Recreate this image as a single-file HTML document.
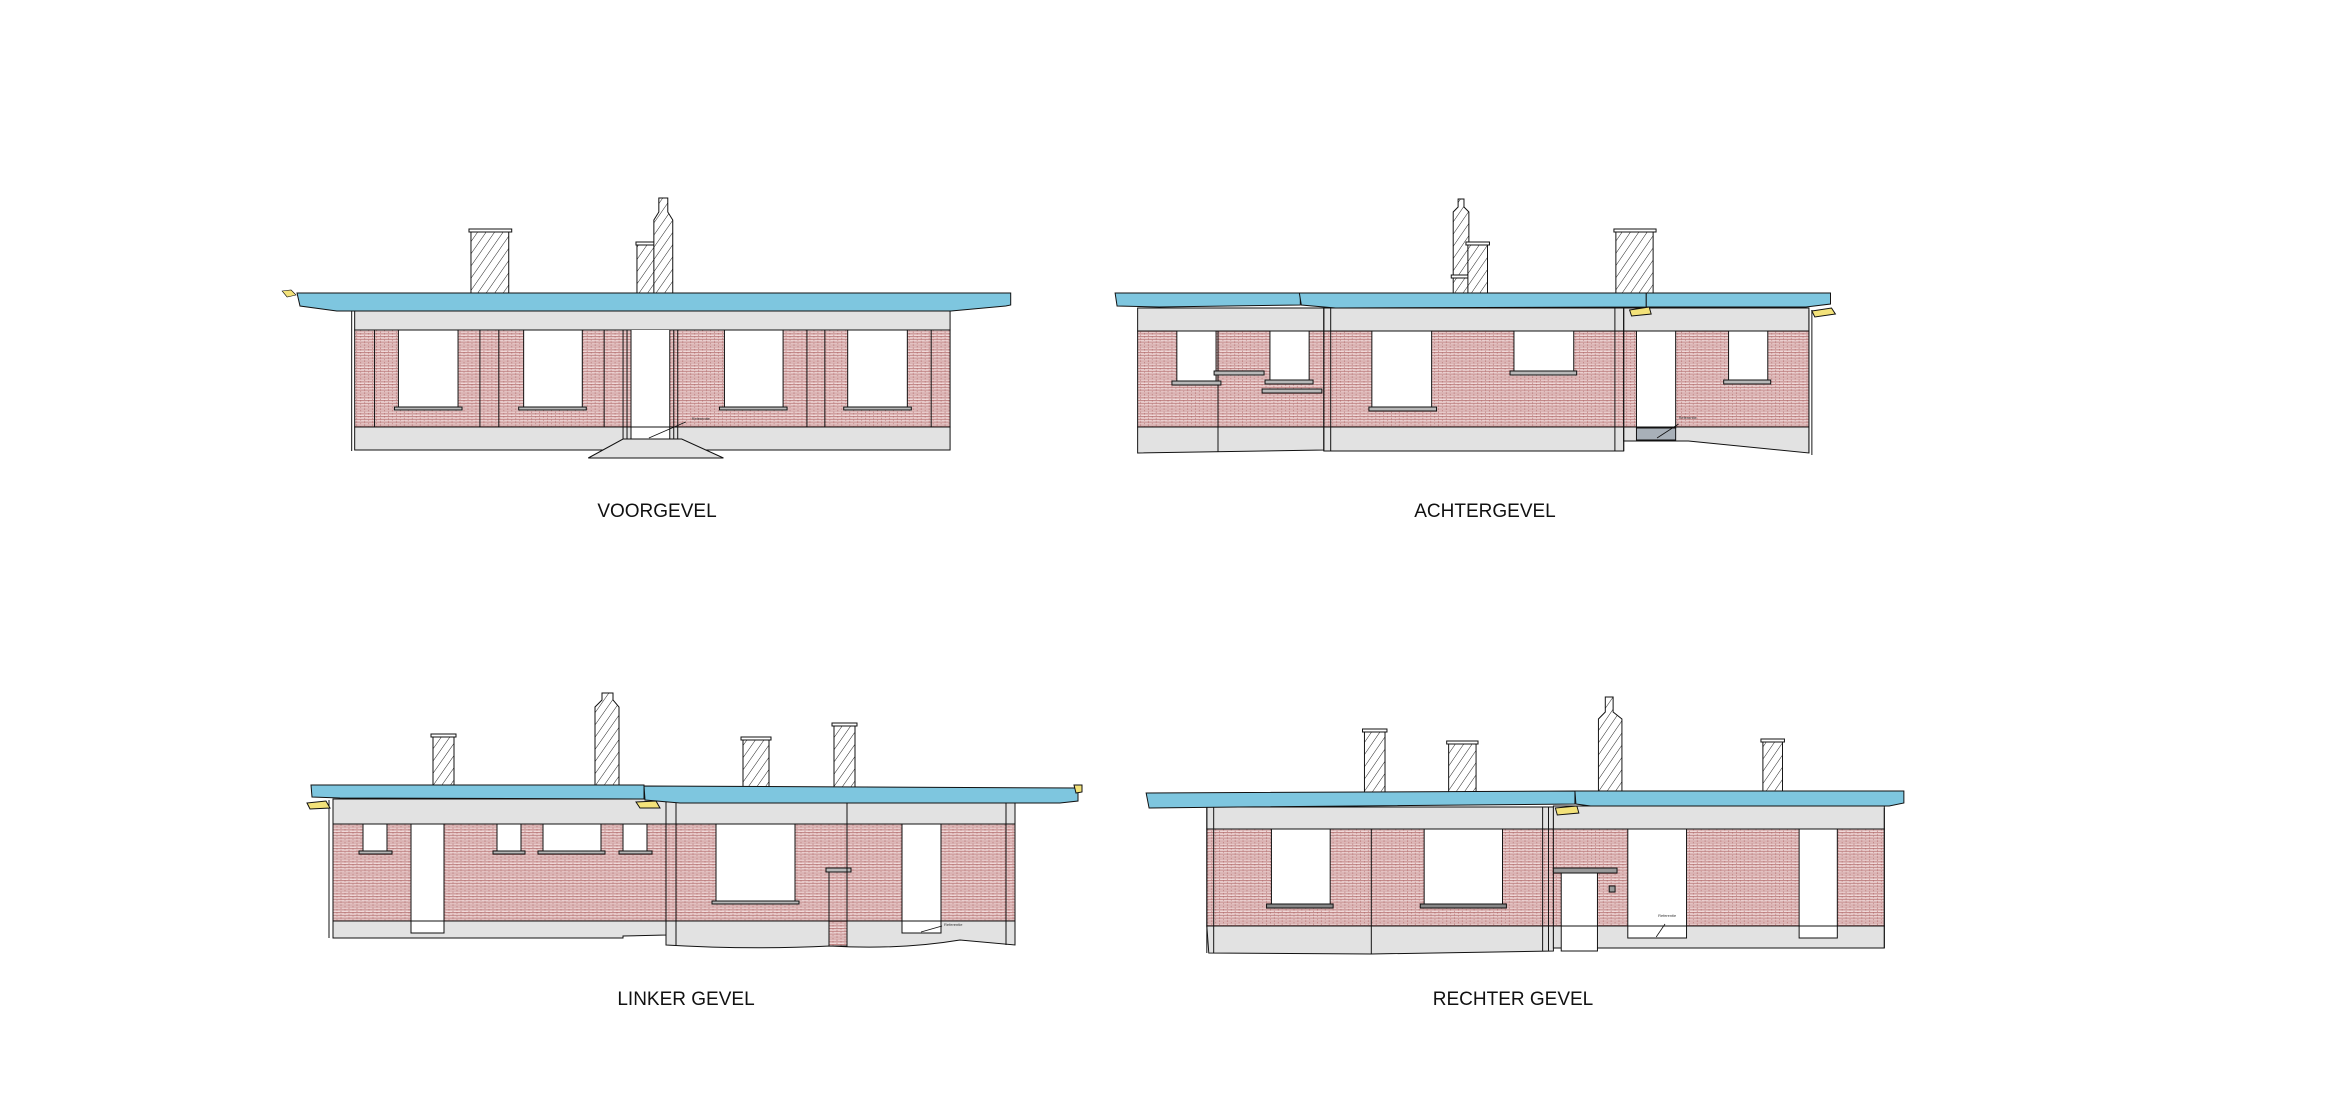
<!DOCTYPE html>
<html><head><meta charset="utf-8"><style>
html,body{margin:0;padding:0;background:#fff;}
svg{display:block;}
text{font-family:"Liberation Sans",Arial,sans-serif;}
</style></head><body>
<svg width="2335" height="1095" viewBox="0 0 2335 1095" xmlns="http://www.w3.org/2000/svg">
<defs>
<pattern id="br" width="8" height="3.2" patternUnits="userSpaceOnUse">
<rect width="8" height="3.2" fill="#f3dede"/>
<line x1="0" y1="0.4" x2="8" y2="0.4" stroke="#b06868" stroke-width="0.7"/>
<line x1="1" y1="0" x2="1" y2="1.6" stroke="#b06868" stroke-width="0.6"/>
<line x1="5" y1="1.6" x2="5" y2="3.2" stroke="#b06868" stroke-width="0.6"/>
<line x1="0" y1="2" x2="8" y2="2" stroke="#c08888" stroke-width="0.5"/>
</pattern>
<pattern id="ht" width="7" height="7" patternUnits="userSpaceOnUse" patternTransform="rotate(35)">
<rect width="7" height="7" fill="#fff"/>
<line x1="0" y1="0" x2="0" y2="7" stroke="#222" stroke-width="1"/>
</pattern>
</defs>
<g stroke="#111" stroke-width="1">

<!-- ================= VOORGEVEL ================= -->
<g transform="matrix(0.994 0 0 1 1.8 0)">
<rect x="472" y="232" width="38" height="62" fill="url(#ht)"/>
<rect x="470" y="229" width="43" height="3" fill="#fff"/>
<rect x="639" y="245" width="20" height="49" fill="url(#ht)"/>
<rect x="638" y="242" width="23" height="3" fill="#fff"/>
<path d="M661 198 H670 V212 L675 220 V294 H656 V220 L661 212 Z" fill="url(#ht)"/>
<rect x="355" y="310" width="599" height="20" fill="#e2e2e2"/>
<rect x="355" y="330" width="599" height="97" fill="url(#br)"/>
<rect x="355" y="427" width="599" height="23" fill="#e2e2e2"/>
<line x1="352" y1="310" x2="352" y2="451"/>
<g fill="#fff">
<rect x="399" y="330" width="60" height="77"/><rect x="525" y="330" width="59" height="77"/>
<rect x="727" y="330" width="59" height="77"/><rect x="851" y="330" width="60" height="77"/>
<rect x="633" y="330" width="39" height="109" stroke="none"/>
</g>
<g fill="#b8b8b8"><rect x="395" y="407" width="68" height="3"/><rect x="520" y="407" width="68" height="3"/><rect x="722" y="407" width="68" height="3"/><rect x="847" y="407" width="68" height="3"/></g>
<g fill="none"><line x1="375" y1="330" x2="375" y2="427"/><line x1="481" y1="330" x2="481" y2="427"/><line x1="500" y1="330" x2="500" y2="427"/><line x1="606" y1="330" x2="606" y2="427"/><line x1="810" y1="330" x2="810" y2="427"/><line x1="828" y1="330" x2="828" y2="427"/><line x1="935" y1="330" x2="935" y2="427"/>
<line x1="625" y1="330" x2="625" y2="439"/><line x1="629" y1="330" x2="629" y2="439"/><line x1="633" y1="330" x2="633" y2="439"/>
<line x1="672" y1="330" x2="672" y2="439"/><line x1="676" y1="330" x2="676" y2="439"/><line x1="680" y1="330" x2="680" y2="439"/>
<line x1="355" y1="427" x2="954" y2="427"/></g>
<path d="M625 439 H684 L726 458 H590 Z" fill="#e2e2e2"/>
<line x1="651" y1="438" x2="688" y2="422" stroke-width="0.8"/>
<text x="694" y="420" font-size="4" stroke="none" fill="#333">Referentie</text>
<path d="M297 293 H1015 V305 L1010 306 L955 311 H337 L300 306 Z" fill="#7ec6df"/>
<path d="M282 291 L291 290 L296 295 L287 297 Z" fill="#f3e27a" stroke-width="0.6"/>
</g>

<!-- ================= ACHTERGEVEL ================= -->
<g transform="matrix(0.98 0 0 1 22.4 0)">
<path d="M1460 294 V212 L1465 207 V199 H1471 V207 L1476 212 V294 Z" fill="url(#ht)"/>
<rect x="1458" y="275" width="20" height="3" fill="#fff"/>
<rect x="1475" y="244" width="20" height="50" fill="url(#ht)"/>
<rect x="1473" y="242" width="24" height="3" fill="#fff"/>
<rect x="1626" y="232" width="38" height="62" fill="url(#ht)"/>
<rect x="1624" y="229" width="43" height="3" fill="#fff"/>
<rect x="1138" y="308" width="190" height="23" fill="#e2e2e2"/>
<rect x="1138" y="331" width="190" height="96" fill="url(#br)"/>
<path d="M1138 427 H1328 V450 L1138 453 Z" fill="#e2e2e2"/>
<rect x="1328" y="308" width="306" height="23" fill="#e2e2e2"/>
<rect x="1328" y="331" width="306" height="96" fill="url(#br)"/>
<rect x="1328" y="427" width="306" height="24" fill="#e2e2e2"/>
<rect x="1634" y="308" width="189" height="23" fill="#e2e2e2"/>
<rect x="1634" y="331" width="189" height="96" fill="url(#br)"/>
<path d="M1634 427 H1823 V453 L1700 441 H1634 Z" fill="#e2e2e2"/>
<line x1="1220" y1="331" x2="1220" y2="452"/>
<g fill="#fff">
<rect x="1178" y="331" width="40" height="51"/><rect x="1273" y="331" width="40" height="49"/>
<rect x="1377" y="331" width="61" height="76"/><rect x="1522" y="331" width="61" height="40"/>
<rect x="1647" y="331" width="40" height="97"/><rect x="1741" y="331" width="40" height="49"/>
</g>
<rect x="1647" y="428" width="40" height="12" fill="#a8b0b8"/>
<g fill="#b8b8b8"><rect x="1173" y="381" width="50" height="4"/><rect x="1268" y="380" width="49" height="4"/><rect x="1216" y="371" width="51" height="4"/><rect x="1265" y="389" width="61" height="4"/><rect x="1374" y="407" width="69" height="4"/><rect x="1518" y="371" width="68" height="4"/><rect x="1736" y="380" width="48" height="4"/></g>
<g fill="none"><line x1="1328" y1="308" x2="1328" y2="451"/><line x1="1335" y1="308" x2="1335" y2="451"/><line x1="1625" y1="308" x2="1625" y2="451"/><line x1="1634" y1="308" x2="1634" y2="451"/><line x1="1823" y1="310" x2="1823" y2="453"/><line x1="1826" y1="310" x2="1826" y2="455"/>
<line x1="1138" y1="427" x2="1823" y2="427"/></g>
<line x1="1668" y1="438" x2="1690" y2="424" stroke-width="0.8"/>
<text x="1690" y="419" font-size="4" stroke="none" fill="#333">Referentie</text>
<path d="M1115 293 H1304 V305 L1160 307 L1117 306 Z" fill="#7ec6df"/>
<path d="M1303 293 H1657 V307 L1340 308 L1305 305 Z" fill="#7ec6df"/>
<path d="M1657 293 H1845 V304 L1820 307 H1657 Z" fill="#7ec6df"/>
<path d="M1640 310 L1660 307 L1662 314 L1642 316 Z" fill="#f3e27a"/>
<path d="M1826 311 L1846 308 L1850 314 L1829 317 Z" fill="#f3e27a"/>
</g>

<!-- ================= LINKER GEVEL ================= -->
<rect x="433" y="737" width="21" height="49" fill="url(#ht)"/><rect x="431" y="734" width="25" height="3" fill="#fff"/>
<path d="M595 786 V707 L602 700 V693 H613 V700 L619 707 V786 Z" fill="url(#ht)"/>
<rect x="743" y="740" width="26" height="47" fill="url(#ht)"/><rect x="741" y="737" width="30" height="3" fill="#fff"/>
<rect x="834" y="726" width="21" height="61" fill="url(#ht)"/><rect x="832" y="723" width="25" height="3" fill="#fff"/>
<rect x="333" y="799" width="333" height="25" fill="#e2e2e2"/>
<rect x="333" y="824" width="333" height="97" fill="url(#br)"/>
<path d="M333 921 H666 V935 L623 936 V938 H333 Z" fill="#e2e2e2"/>
<rect x="666" y="800" width="349" height="24" fill="#e2e2e2"/>
<rect x="666" y="824" width="349" height="97" fill="url(#br)"/>
<path d="M666 921 H1015 V945 L960 940 Q900 950 830 946 Q750 950 666 945 Z" fill="#e2e2e2"/>
<line x1="329" y1="800" x2="329" y2="938"/>
<g fill="#fff">
<rect x="363" y="824" width="24" height="27"/><rect x="411" y="824" width="33" height="109"/>
<rect x="497" y="824" width="24" height="27"/><rect x="543" y="824" width="58" height="27"/><rect x="623" y="824" width="24" height="27"/>
<rect x="716" y="824" width="79" height="77"/><rect x="902" y="824" width="39" height="109"/>
</g>
<rect x="829" y="870" width="18" height="76" fill="url(#br)"/>
<g fill="#b8b8b8"><rect x="359" y="851" width="33" height="3"/><rect x="493" y="851" width="32" height="3"/><rect x="538" y="851" width="67" height="3"/><rect x="619" y="851" width="33" height="3"/><rect x="712" y="901" width="87" height="3"/><rect x="826" y="868" width="25" height="4"/></g>
<g fill="none"><line x1="666" y1="800" x2="666" y2="945"/><line x1="676" y1="800" x2="676" y2="945"/><line x1="847" y1="800" x2="847" y2="946"/><line x1="1006" y1="803" x2="1006" y2="945"/><line x1="1015" y1="803" x2="1015" y2="945"/><line x1="333" y1="921" x2="1015" y2="921"/></g>
<line x1="921" y1="932" x2="942" y2="926" stroke-width="0.8"/>
<text x="944" y="926" font-size="4" stroke="none" fill="#333">Referentie</text>
<path d="M311 785 H644 V799 L340 798 L312 797 Z" fill="#7ec6df"/>
<path d="M644 786 L1078 788 V801 L1060 803 H680 L645 800 Z" fill="#7ec6df"/>
<path d="M307 803 L326 801 L330 808 L310 809 Z" fill="#f3e27a"/>
<path d="M636 802 L656 801 L660 808 L640 808 Z" fill="#f3e27a"/>
<path d="M1074 785 H1082 V792 L1076 793 Z" fill="#f3e27a"/>

<!-- ================= RECHTER GEVEL ================= -->
<g transform="matrix(0.979 0 0 1 24.2 0)">
<rect x="1369" y="732" width="21" height="60" fill="url(#ht)"/><rect x="1367" y="729" width="25" height="3" fill="#fff"/>
<rect x="1455" y="744" width="28" height="48" fill="url(#ht)"/><rect x="1453" y="741" width="32" height="3" fill="#fff"/>
<path d="M1608 792 V719 L1615 712 V697 H1623 V712 L1632 719 V792 Z" fill="url(#ht)"/>
<rect x="1776" y="742" width="20" height="50" fill="url(#ht)"/><rect x="1774" y="739" width="24" height="3" fill="#fff"/>
<rect x="1208" y="807" width="354" height="22" fill="#e2e2e2"/>
<rect x="1208" y="829" width="354" height="97" fill="url(#br)"/>
<path d="M1208 926 H1562 V951 L1376 954 L1210 953 Z" fill="#e2e2e2"/>
<rect x="1562" y="806" width="338" height="23" fill="#e2e2e2"/>
<rect x="1562" y="829" width="338" height="97" fill="url(#br)"/>
<rect x="1562" y="926" width="338" height="22" fill="#e2e2e2"/>
<g fill="#fff">
<rect x="1274" y="829" width="60" height="75"/><rect x="1430" y="829" width="80" height="75"/>
<rect x="1570" y="873" width="37" height="78"/>
<rect x="1638" y="829" width="60" height="109"/><rect x="1813" y="829" width="39" height="109"/>
</g>
<rect x="1562" y="868" width="65" height="5" fill="#999"/>
<rect x="1619" y="886" width="6" height="6" fill="#999"/>
<g fill="#888"><rect x="1269" y="904" width="68" height="4"/><rect x="1426" y="904" width="88" height="4"/></g>
<g fill="none"><line x1="1208" y1="807" x2="1208" y2="953"/><line x1="1215" y1="807" x2="1215" y2="953"/><line x1="1551" y1="807" x2="1551" y2="951"/><line x1="1557" y1="807" x2="1557" y2="951"/><line x1="1376" y1="829" x2="1376" y2="954"/><line x1="1900" y1="808" x2="1900" y2="948"/><line x1="1208" y1="926" x2="1900" y2="926"/></g>
<line x1="1667" y1="937" x2="1676" y2="924" stroke-width="0.8"/>
<text x="1669" y="917" font-size="4" stroke="none" fill="#333">Referentie</text>
<path d="M1146 793 L1584 791 V804 L1240 807 L1149 808 Z" fill="#7ec6df"/>
<path d="M1584 791 H1920 V803 L1905 806 H1600 L1585 804 Z" fill="#7ec6df"/>
<path d="M1564 808 L1586 806 L1588 813 L1566 815 Z" fill="#f3e27a"/>
</g>
</g>

<g fill="#111" font-size="19" text-anchor="middle">
<text x="657" y="517">VOORGEVEL</text>
<text x="1485" y="517">ACHTERGEVEL</text>
<text x="686" y="1005">LINKER GEVEL</text>
<text x="1513" y="1005">RECHTER GEVEL</text>
</g>
</svg>
</body></html>
